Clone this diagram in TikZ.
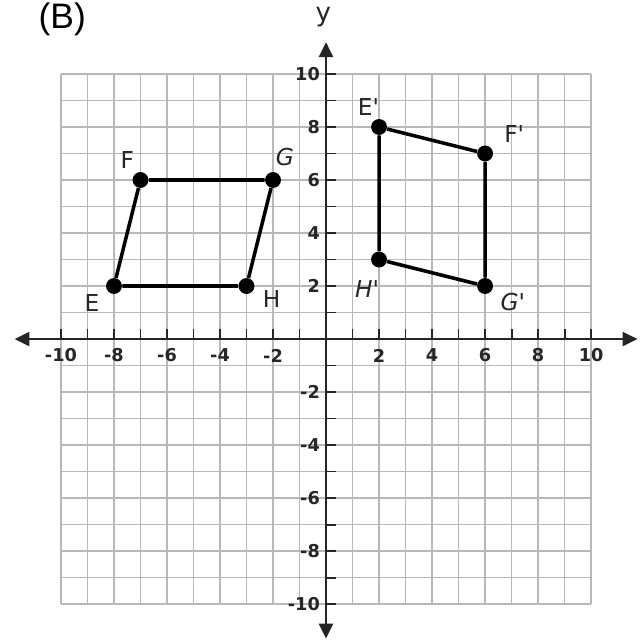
\documentclass[tikz,border=0pt]{standalone}
\usepackage{fontspec}
\setmainfont{DejaVu Sans}
\newfontfamily\titlefont{Liberation Sans}
\usetikzlibrary{arrows.meta}
\begin{document}
\begin{tikzpicture}[x=0.5cm,y=0.5cm,
  gridline/.style={draw=black!28, line width=0.75pt},
  axisline/.style={draw=black!85, line width=1.3pt,
    {Triangle[length=8pt,width=7.5pt]}-{Triangle[length=8pt,width=7.5pt]}},
  tickline/.style={draw=black!85, line width=1pt},
  numlab/.style={font=\fontsize{9.5}{10}\selectfont\bfseries, text=black!85, inner sep=0pt},
  vtx/.style={circle, fill=black, inner sep=0pt, minimum size=0.3cm},
  vlab/.style={font=\fontsize{12.5}{13}\selectfont, text=black!85, inner sep=0pt},
  edge/.style={draw=black, line width=1.9pt}]
\useasboundingbox (-12.30,-11.43) rectangle (11.92,12.79);
% grid
\draw[gridline, step=0.5cm] (-10,-10) grid (10,10);
% axes
\coordinate (xl) at (-11.75,0);
\coordinate (xr) at (11.75,0);
\coordinate (yb) at (0,-11.3);
\coordinate (yt) at (0,11.2);
\draw[axisline] (xl) -- (xr);
\draw[axisline] (yb) -- (yt);
\foreach \i in {-10,...,-1,1,2,...,10}{
  \draw[tickline] (\i,0) -- (\i,0.38);
  \draw[tickline] (0,\i) -- (0.38,\i);
}
\foreach \i in {-10,-8,-6,-4,-2,2,4,6,8,10}{
  \node[numlab] (xn\i) at (\i,-0.62) {\i};
  \node[numlab, anchor=east] (yn\i) at (-0.22,\i) {\i};
}
\node[font=\fontsize{14}{15}\selectfont, text=black!85] (ylab) at (-0.1,12.15) {y};
\node[font=\fontsize{19}{21}\selectfont\titlefont, anchor=base, inner sep=0pt] (title) at (-9.95,11.72) {(B)};
% original figure EFGH
\node[vtx] (E) at (-8,2) {};
\node[vtx] (F) at (-7,6) {};
\node[vtx] (G) at (-2,6) {};
\node[vtx] (H) at (-3,2) {};
\draw[edge] (E) -- (F) -- (G) -- (H) -- (E);
\node[vlab] (lE) at (-8.83,1.35) {E};
\node[vlab] (lF) at (-7.5,6.75) {F};
\node[vlab] (lG) at (-1.55,6.85) {\itshape G};
\node[vlab] (lH) at (-2.05,1.5) {H};
% image E'F'G'H'
\node[vtx] (E1) at (2,8) {};
\node[vtx] (F1) at (6,7) {};
\node[vtx] (G1) at (6,2) {};
\node[vtx] (H1) at (2,3) {};
\draw[edge] (E1) -- (F1) -- (G1) -- (H1) -- (E1);
\node[vlab] (lE1) at (1.6,8.75) {E\textquotesingle};
\node[vlab] (lF1) at (7.1,7.75) {F\textquotesingle};
\node[vlab] (lG1) at (7.05,1.4) {\itshape G\upshape\textquotesingle};
\node[vlab] (lH1) at (1.55,1.9) {\itshape H\upshape\textquotesingle};
\end{tikzpicture}
\end{document}
